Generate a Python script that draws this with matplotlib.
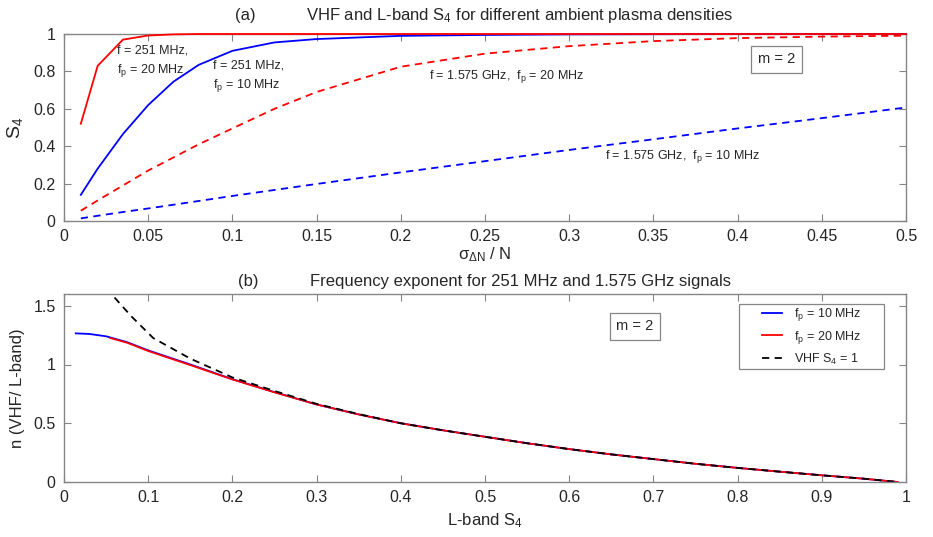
import matplotlib
matplotlib.use("Agg")
import matplotlib.pyplot as plt
from matplotlib.patches import Rectangle

plt.rcParams['font.family'] = ['Liberation Sans', 'DejaVu Sans']
plt.rcParams['mathtext.fontset'] = 'custom'
plt.rcParams['mathtext.rm'] = 'Liberation Sans'
plt.rcParams['mathtext.it'] = 'Liberation Sans:italic'
plt.rcParams['mathtext.default'] = 'regular'

# (a) S4 vs sigma_dN / N
sigma = [0.01, 0.02, 0.035, 0.05, 0.065, 0.08, 0.1, 0.125, 0.15, 0.2, 0.25, 0.3, 0.35, 0.4, 0.45, 0.5]
vhf_fp10 = [0.14, 0.28, 0.465, 0.62, 0.745, 0.835, 0.91, 0.955, 0.973, 0.99, 0.995, 0.998, 0.999, 1.0, 1.0, 1.0]
vhf_fp20 = [0.52, 0.83, 0.97, 0.992, 0.998, 1.0, 1.0, 1.0, 1.0, 1.0, 1.0, 1.0, 1.0, 1.0, 1.0, 1.0]
lband_fp20 = [0.055, 0.11, 0.19, 0.27, 0.34, 0.41, 0.495, 0.6, 0.69, 0.825, 0.895, 0.935, 0.962, 0.978, 0.986, 0.991]
lband_fp10 = [0.014, 0.028, 0.048, 0.067, 0.087, 0.107, 0.134, 0.166, 0.198, 0.26, 0.32, 0.38, 0.437, 0.495, 0.55, 0.607]

# (b) frequency exponent vs L-band S4
s4_10 = [0.014, 0.03, 0.05, 0.075, 0.1, 0.15, 0.2, 0.25, 0.3, 0.35, 0.4, 0.45, 0.5,
         0.55, 0.6, 0.65, 0.7, 0.75, 0.8, 0.85, 0.9, 0.95, 0.99]
n_10 = [1.265, 1.26, 1.24, 1.19, 1.12, 1.0, 0.875, 0.765, 0.66, 0.575, 0.5, 0.44, 0.385,
        0.33, 0.28, 0.235, 0.195, 0.155, 0.12, 0.088, 0.057, 0.028, 0.0]
s4_20 = [0.055, 0.075, 0.1, 0.15, 0.2, 0.25, 0.3, 0.35, 0.4, 0.45, 0.5,
         0.55, 0.6, 0.65, 0.7, 0.75, 0.8, 0.85, 0.9, 0.95, 0.99]
n_20 = [1.225, 1.185, 1.115, 0.995, 0.873, 0.763, 0.66, 0.575, 0.5, 0.44, 0.385,
        0.33, 0.28, 0.235, 0.195, 0.155, 0.12, 0.088, 0.057, 0.028, 0.0]
s4_sat = [0.05, 0.08, 0.106, 0.15, 0.2, 0.25, 0.3, 0.35, 0.4, 0.45, 0.5,
          0.55, 0.6, 0.65, 0.7, 0.75, 0.8, 0.85, 0.9, 0.95, 0.99]
n_sat = [1.65, 1.41, 1.225, 1.05, 0.89, 0.775, 0.665, 0.578, 0.5, 0.44, 0.385,
         0.33, 0.28, 0.235, 0.195, 0.155, 0.12, 0.088, 0.057, 0.028, 0.0]

fig = plt.figure(figsize=(9.33, 5.37), dpi=100)
ax1 = fig.add_axes([64 / 933, 1 - 221 / 537, 842 / 933, 187 / 537])
ax2 = fig.add_axes([64 / 933, 1 - 482 / 537, 842 / 933, 188 / 537])

edge = '#858585'
txt = '#262626'


def style(ax):
    for s in ax.spines.values():
        s.set_color(edge)
        s.set_linewidth(1.0)
    ax.tick_params(direction='in', top=True, right=True, length=5, width=0.8,
                   color=edge, labelcolor=txt, labelsize=11.5, pad=6)


lw = 1.3
dash = (0, (4, 3))
ax1.plot(sigma, lband_fp20, color='red', lw=lw, ls=dash, clip_on=False, zorder=3)
ax1.plot(sigma, lband_fp10, color='blue', lw=lw, ls=dash, clip_on=False, zorder=3)
ax1.plot(sigma, vhf_fp10, color='blue', lw=lw, clip_on=False, zorder=3)
ax1.plot(sigma, vhf_fp20, color='red', lw=lw, clip_on=False, zorder=3)
ax1.set_xlim(0, 0.5)
ax1.set_ylim(0, 1)
ax1.set_xticks([0, 0.05, 0.1, 0.15, 0.2, 0.25, 0.3, 0.35, 0.4, 0.45, 0.5])
ax1.set_xticklabels(['0', '0.05', '0.1', '0.15', '0.2', '0.25', '0.3', '0.35', '0.4', '0.45', '0.5'])
ax1.set_yticks([0, 0.2, 0.4, 0.6, 0.8, 1])
ax1.set_yticklabels(['0', '0.2', '0.4', '0.6', '0.8', '1'])
style(ax1)
ax1.set_ylabel('S$_4$', fontsize=14, color=txt, labelpad=6)
ax1.set_xlabel(r'$\sigma_{\Delta N}$ / N', fontsize=12, color=txt, labelpad=1)
ax1.text(0.215, 1.1, '(a)', transform=ax1.transAxes, ha='center', va='center', fontsize=12, color=txt)
ax1.text(0.287, 1.1, 'VHF and L-band S$_4$ for different ambient plasma densities',
         transform=ax1.transAxes, ha='left', va='center', fontsize=12, color=txt)

fs = 9
ax1.text(0.0315, 0.85, 'f = 251 MHz,\nf$_\\mathrm{p}$ = 20 MHz', fontsize=fs, color=txt, va='center', linespacing=1.5)
ax1.text(0.0885, 0.77, 'f = 251 MHz,\nf$_\\mathrm{p}$ = 10 MHz', fontsize=fs, color=txt, va='center', linespacing=1.5)
ax1.text(0.217, 0.775, 'f = 1.575 GHz,  f$_\\mathrm{p}$ = 20 MHz', fontsize=fs, color=txt, va='center')
ax1.text(0.321, 0.345, 'f = 1.575 GHz,  f$_\\mathrm{p}$ = 10 MHz', fontsize=fs, color=txt, va='center')
ax1.text(0.423, 0.864, 'm = 2', fontsize=10.5, color=txt, ha='center', va='center',
         bbox=dict(boxstyle='square,pad=0.45', fc='white', ec=edge, lw=0.9))

ax2.plot(s4_10, n_10, color='blue', lw=lw, label='f$_\\mathrm{p}$ = 10 MHz')
ax2.plot(s4_20, n_20, color='red', lw=lw, label='f$_\\mathrm{p}$ = 20 MHz')
ax2.plot(s4_sat, n_sat, color='black', lw=lw, ls=dash, label='VHF S$_4$ = 1')
ax2.set_xlim(0, 1)
ax2.set_ylim(0, 1.6)
ax2.set_xticks([0, 0.1, 0.2, 0.3, 0.4, 0.5, 0.6, 0.7, 0.8, 0.9, 1])
ax2.set_xticklabels(['0', '0.1', '0.2', '0.3', '0.4', '0.5', '0.6', '0.7', '0.8', '0.9', '1'])
ax2.set_yticks([0, 0.5, 1, 1.5])
ax2.set_yticklabels(['0', '0.5', '1', '1.5'])
style(ax2)
ax2.set_ylabel('n (VHF/ L-band)', fontsize=12, color=txt, labelpad=6)
ax2.set_xlabel('L-band S$_4$', fontsize=12, color=txt, labelpad=4)
ax2.text(0.219, 1.067, '(b)', transform=ax2.transAxes, ha='center', va='center', fontsize=12, color=txt)
ax2.text(0.292, 1.067, 'Frequency exponent for 251 MHz and 1.575 GHz signals',
         transform=ax2.transAxes, ha='left', va='center', fontsize=12, color=txt)
ax2.text(0.678, 1.325, 'm = 2', fontsize=10.5, color=txt, ha='center', va='center',
         bbox=dict(boxstyle='square,pad=0.45', fc='white', ec=edge, lw=0.9))

# legend frame drawn separately (MATLAB-style wide padding)
ax2.add_patch(Rectangle((0.8017, 0.601), 0.172, 0.346, transform=ax2.transAxes,
                        fc='white', ec=edge, lw=0.9, zorder=4))
leg = ax2.legend(loc='center', bbox_to_anchor=(0.888, 0.774), fontsize=9, frameon=False,
                 handlelength=1.6, labelspacing=0.45, borderpad=0.2, handletextpad=1.0)
leg.set_zorder(5)
for t in leg.get_texts():
    t.set_color(txt)

fig.savefig('out.png', dpi=100)
